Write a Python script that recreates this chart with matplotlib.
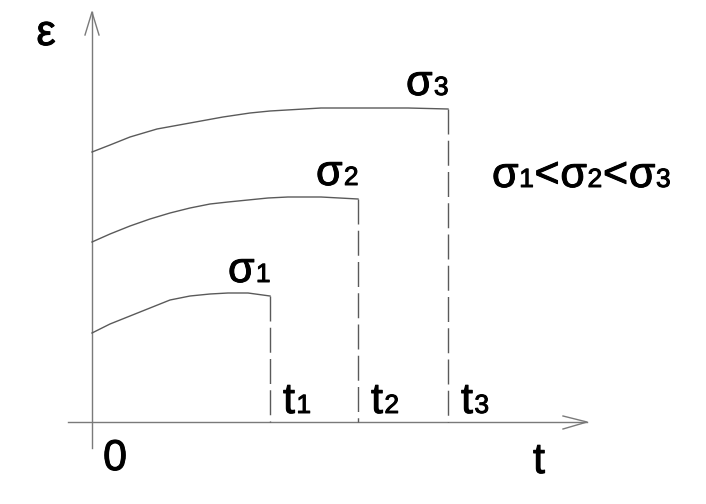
import matplotlib
matplotlib.use("Agg")
import matplotlib.pyplot as plt
import matplotlib.patheffects as pe

plt.rcParams.update({"font.family": ["Liberation Sans", "DejaVu Sans"]})

# creep curves: strain vs time for three stress levels (drawing units)
t1_pts = [0, 18, 38, 58, 78, 98, 118, 136, 156, 178]
eps1_pts = [89, 98, 106, 114, 122, 126, 128, 129, 129, 126]
t2_pts = [0, 18, 38, 58, 78, 98, 118, 136, 156, 176, 196, 229, 266]
eps2_pts = [180, 188, 196, 203, 209, 214, 218, 220, 222, 224, 225, 225, 223]
t3_pts = [0, 18, 38, 65, 98, 131, 158, 178, 229, 270, 316, 356]
eps3_pts = [270, 277, 285, 293, 299, 305, 309, 311, 314, 314, 314, 313]

curves = [(t1_pts, eps1_pts), (t2_pts, eps2_pts), (t3_pts, eps3_pts)]
subs = ["1", "2", "3"]

BIG = 31
SMALL = 19
LINE = "#5a5a5a"
AXIS = "#7a7a7a"
BOLDEN = [pe.withStroke(linewidth=0.7, foreground="black")]

fig = plt.figure(figsize=(7.06, 5.04), dpi=100)
ax = fig.add_axes([0, 0, 1, 1])
ax.set_xlim(-92, 614)
ax.set_ylim(-82, 422)
ax.axis("off")


def put(x, y, s, size=BIG, ha="left"):
    return ax.text(x, y, s, fontsize=size, ha=ha, va="baseline",
                   path_effects=BOLDEN)


def after(prev, y, s, size, gap=0.5):
    return ax.annotate(s, xy=(1, y), xycoords=(prev, "data"),
                       xytext=(gap, 0), textcoords="offset points",
                       fontsize=size, ha="left", va="baseline",
                       path_effects=BOLDEN)


# axes with open arrow heads
ax.plot([0, 0], [-26, 410], color=AXIS, lw=1)
ax.plot([-7, 0, 7], [387, 410, 387], color=AXIS, lw=1)
ax.plot([-24, 495], [0, 0], color=AXIS, lw=1)
ax.plot([471, 495, 471], [6, 0, -7], color=AXIS, lw=1)

for (t, e), s in zip(curves, subs):
    ax.plot(t, e, color=LINE, lw=1)
    ax.plot([t[-1], t[-1]], [e[-1], 0], color=LINE, lw=1,
            dashes=(18, 4.5))
    after(put(t[-1] + 13, 9, "t"), 9, s, SMALL, gap=1)
    after(put(t[-1] - 42, e[-1] + 14, "σ"), e[-1] + 14, s, SMALL, gap=1)

put(-46, 377, "ε", ha="center")
put(23, -48, "0", ha="center")
put(447, -51, "t", ha="center")

# sigma1 < sigma2 < sigma3
prev = put(400, 235, "σ")
parts = [("1", SMALL), ("<", BIG), ("σ", BIG), ("2", SMALL), ("<", BIG),
         ("σ", BIG), ("3", SMALL)]
for s, fs in parts:
    prev = after(prev, 235, s, fs)

fig.savefig("out.png", dpi=100)
